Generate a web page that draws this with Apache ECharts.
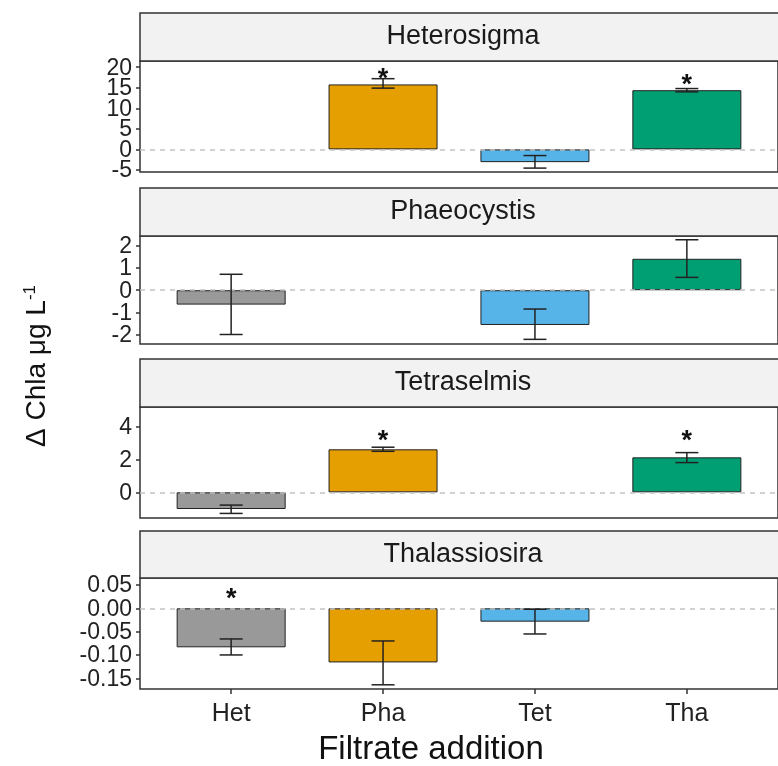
<!DOCTYPE html>
<html>
<head>
<meta charset="utf-8">
<script src="https://cdn.jsdelivr.net/npm/echarts@6.0.0/dist/echarts.min.js"></script>
<style>
    html, body { margin: 0; padding: 0; background: #fff; }
    #main { width: 778px; height: 766px; }
</style>
</head>
<body>
<div id="main"></div>
<script>
var categories = ['Het', 'Pha', 'Tet', 'Tha'];
var colors = ['#999999', '#E69F00', '#56B4E9', '#009E73'];
var panels = ['Heterosigma', 'Phaeocystis', 'Tetraselmis', 'Thalassiosira'];

// mean, lower and upper error, star position (null = nothing)
var hetMean = [null, 15.8, -3.1, 14.4];
var hetLow = [null, 14.9, -4.55, 14.0];
var hetHigh = [null, 17.2, -1.5, 14.8];
var hetStar = [null, 18.4, null, 16.9];

var phaMean = [-0.65, null, -1.57, 1.42];
var phaLow = [-2.0, null, -2.22, 0.58];
var phaHigh = [0.72, null, -0.85, 2.28];
var phaStar = [null, null, null, null];

var tetMean = [-1.02, 2.63, null, 2.14];
var tetLow = [-1.29, 2.51, null, 1.82];
var tetHigh = [-0.78, 2.76, null, 2.43];
var tetStar = [null, 3.45, null, 3.45];

var thaMean = [-0.0836, -0.116, -0.0286, null];
var thaLow = [-0.1, -0.164, -0.055, null];
var thaHigh = [-0.0657, -0.07, -0.002, null];
var thaStar = [0.032, null, null, null];

var yTicks = [
    [-5, 0, 5, 10, 15, 20],
    [-2, -1, 0, 1, 2],
    [0, 2, 4],
    [-0.15, -0.10, -0.05, 0, 0.05]
];
var yMin = [-5.5, -2.43, -1.57, -0.173];
var yMax = [21.5, 2.45, 5.22, 0.065];

var means = [hetMean, phaMean, tetMean, thaMean];
var lows = [hetLow, phaLow, tetLow, thaLow];
var highs = [hetHigh, phaHigh, tetHigh, thaHigh];
var stars = [hetStar, phaStar, tetStar, thaStar];

var gridTop = [61, 236, 407, 578];
var gridH = [111, 108, 111, 111];
var stripTop = [13, 188, 359, 531];
var left = 140, width = 646;
var font = 'Liberation Sans, Arial, sans-serif';

var myChart = echarts.init(document.getElementById('main'));

var grids = [], xAxes = [], yAxes = [], series = [], graphics = [];

for (var i = 0; i < 4; i++) {
    grids.push({
        left: left, top: gridTop[i], width: width, height: gridH[i],
        show: true, borderColor: '#333', borderWidth: 1.5, backgroundColor: '#fff'
    });
    var last = i === 3;
    xAxes.push({
        gridIndex: i, type: 'value', min: 0.4, max: 4.6,
        axisLine: { show: false, onZero: false },
        splitLine: { show: false },
        axisTick: { show: last, length: 5, lineStyle: { color: '#333', width: 1.5 }, customValues: [1, 2, 3, 4] },
        axisLabel: {
            show: last, customValues: [1, 2, 3, 4], margin: 13,
            color: '#222', fontSize: 25, fontFamily: font,
            formatter: function (v) { return categories[Math.round(v) - 1]; }
        }
    });
    yAxes.push({
        gridIndex: i, type: 'value', min: yMin[i], max: yMax[i],
        axisLine: { show: false, onZero: false },
        splitLine: { show: false },
        axisTick: { show: true, length: 4, lineStyle: { color: '#333', width: 1.5 }, customValues: yTicks[i] },
        axisLabel: { show: false }
    });

    var barData = [], errData = [], starData = [];
    for (var j = 0; j < 4; j++) {
        if (means[i][j] !== null) {
            barData.push({ value: [j + 1, means[i][j]], itemStyle: { color: colors[j] } });
            errData.push([j + 1, lows[i][j], highs[i][j]]);
        }
        if (stars[i][j] !== null) starData.push([j + 1, stars[i][j]]);
    }

    series.push({
        type: 'bar', xAxisIndex: i, yAxisIndex: i, barWidth: 109,
        data: barData,
        itemStyle: { borderColor: '#222', borderWidth: 1 },
        markLine: {
            silent: true, symbol: 'none', label: { show: false },
            lineStyle: { color: '#c4c4c4', type: [5, 5], width: 1.5 },
            data: [{ yAxis: 0 }]
        }
    });
    series.push({
        type: 'custom', xAxisIndex: i, yAxisIndex: i, z: 5,
        data: errData,
        renderItem: function (params, api) {
            var lo = api.coord([api.value(0), api.value(1)]);
            var hi = api.coord([api.value(0), api.value(2)]);
            var s = { stroke: '#222', lineWidth: 1.5 };
            return {
                type: 'group', children: [
                    { type: 'line', shape: { x1: lo[0], y1: lo[1], x2: hi[0], y2: hi[1] }, style: s },
                    { type: 'line', shape: { x1: lo[0] - 11.5, y1: lo[1], x2: lo[0] + 11.5, y2: lo[1] }, style: s },
                    { type: 'line', shape: { x1: hi[0] - 11.5, y1: hi[1], x2: hi[0] + 11.5, y2: hi[1] }, style: s }
                ]
            };
        }
    });
    series.push({
        type: 'custom', xAxisIndex: i, yAxisIndex: i, z: 6,
        data: starData,
        renderItem: function (params, api) {
            var p = api.coord([api.value(0), api.value(1)]);
            return {
                type: 'text', x: p[0], y: p[1] + 6,
                style: { text: '*', fill: '#111', font: 'bold 27px ' + font, align: 'center', verticalAlign: 'middle' }
            };
        }
    });
    // y tick labels: placed through the y scale so that crowded ones all stay visible
    (function (idx) {
        series.push({
            type: 'custom', xAxisIndex: idx, yAxisIndex: idx, clip: false, silent: true,
            data: yTicks[idx].map(function (v) { return [0.4, v]; }),
            renderItem: function (params, api) {
                var v = api.value(1);
                var p = api.coord([0.4, v]);
                return {
                    type: 'text', x: p[0] - 8, y: p[1] + 1,
                    style: {
                        text: idx === 3 ? v.toFixed(2) : String(v), fill: '#222',
                        font: '23px ' + font, align: 'right', verticalAlign: 'middle'
                    }
                };
            }
        });
    })(i);

    graphics.push({
        type: 'rect', shape: { x: left, y: stripTop[i], width: width, height: gridTop[i] - stripTop[i] },
        style: { fill: '#f2f2f2', stroke: '#333', lineWidth: 1.5 }
    });
    graphics.push({
        type: 'text', x: left + width / 2, y: (stripTop[i] + gridTop[i]) / 2,
        style: { text: panels[i], fill: '#1a1a1a', font: '27px ' + font, align: 'center', verticalAlign: 'middle' }
    });
}

graphics.push({
    type: 'text', x: 37, y: 366, rotation: Math.PI / 2,
    style: {
        text: 'Δ Chla μg L{sup|-1}', fill: '#111', font: '28px ' + font,
        align: 'center', verticalAlign: 'middle',
        rich: { sup: { fontSize: 17, fontFamily: font, verticalAlign: 'top', padding: [0, 0, 14, 0], fill: '#111' } }
    }
});
graphics.push({
    type: 'text', x: 431, y: 750,
    style: { text: 'Filtrate addition', fill: '#111', font: '33px ' + font, align: 'center', verticalAlign: 'middle' }
});

var option = {
    animation: false,
    grid: grids,
    xAxis: xAxes,
    yAxis: yAxes,
    series: series,
    graphic: graphics
};
myChart.setOption(option);
</script>
</body>
</html>
